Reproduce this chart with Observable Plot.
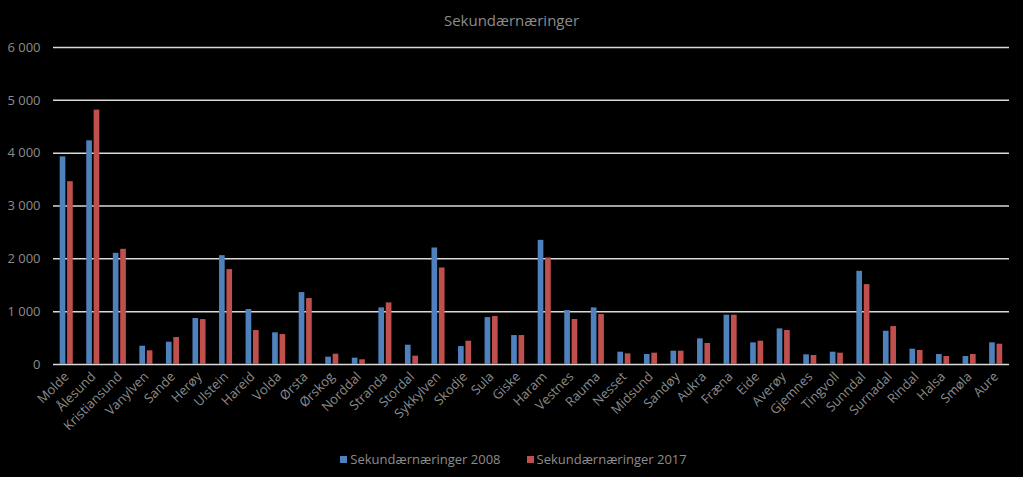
<!DOCTYPE html>
<html>
<head>
<meta charset="utf-8">
<script src="https://cdn.jsdelivr.net/npm/d3@7"></script>
<script src="https://cdn.jsdelivr.net/npm/@observablehq/plot@0.6"></script>
<style>
  html, body { margin: 0; padding: 0; background: #000; }
  body { width: 1023px; height: 477px; overflow: hidden; font-family: "Open Sans", sans-serif; }
  #title { height: 36px; line-height: 40px; text-align: center; color: #8c8c8c; font-size: 15px; }
  #legend { display: flex; justify-content: center; gap: 26px; color: #8c8c8c; font-size: 13px; margin-top: 14px; padding-left: 4px; }
  #legend span.item { display: inline-flex; align-items: center; }
  #legend span.sw { display: inline-block; width: 7px; height: 7px; margin-right: 3px; }
</style>
</head>
<body>
<div id="title">Sekundærnæringer</div>
<div id="chart"></div>
<div id="legend"></div>
<script>
const categories = ["Molde","Ålesund","Kristiansund","Vanylven","Sande","Herøy","Ulstein","Hareid","Volda","Ørsta","Ørskog","Norddal","Stranda","Stordal","Sykkylven","Skodje","Sula","Giske","Haram","Vestnes","Rauma","Nesset","Midsund","Sandøy","Aukra","Fræna","Eide","Averøy","Gjemnes","Tingvoll","Sunndal","Surnadal","Rindal","Halsa","Smøla","Aure"];
const values2008 = [3930,4234,2104,346,422,870,2060,1040,600,1361,139,120,1071,365,2205,340,888,548,2350,1021,1071,233,189,252,485,933,410,674,183,233,1764,630,290,189,151,410];
const values2017 = [3460,4815,2180,259,510,850,1796,643,567,1248,195,89,1166,158,1827,441,907,548,2017,851,945,202,214,252,397,933,441,643,170,214,1512,718,265,151,189,384];
const seriesNames = ["Sekundærnæringer 2008","Sekundærnæringer 2017"];
const seriesColors = ["#4f81bd","#c0504d"];
const yTicks = [0,1000,2000,3000,4000,5000,6000];

const data2008 = categories.map((k, i) => ({kommune: k, serie: seriesNames[0], value: values2008[i]}));
const data2017 = categories.map((k, i) => ({kommune: k, serie: seriesNames[1], value: values2017[i]}));

const chart = Plot.plot({
  width: 1023,
  height: 400,
  marginLeft: 53,
  marginRight: 14,
  marginTop: 11,
  marginBottom: 72,
  style: {background: "#000", color: "#8c8c8c", fontFamily: "Open Sans, sans-serif", fontSize: "13px"},
  x: {domain: categories, padding: 0, round: false, label: null, tickRotate: -45, tickSize: 0, tickPadding: 10},
  y: {domain: [0, 6000], ticks: yTicks, label: null, tickSize: 0, tickPadding: 13,
      tickFormat: d => d3.format(",")(d).replace(/,/g, "\u00a0")},
  color: {domain: seriesNames, range: seriesColors},
  marks: [
    Plot.ruleY(yTicks, {stroke: "#d9d9d9", strokeWidth: 1.5}),
    Plot.barY(data2008, {x: "kommune", y: "value", fill: "serie", insetLeft: 6.7, insetRight: 14.2}),
    Plot.barY(data2017, {x: "kommune", y: "value", fill: "serie", insetLeft: 14.1, insetRight: 6.8})
  ]
});
document.getElementById("chart").appendChild(chart);

const legend = document.getElementById("legend");
seriesNames.forEach((name, i) => {
  const item = document.createElement("span");
  item.className = "item";
  const sw = document.createElement("span");
  sw.className = "sw";
  sw.style.background = seriesColors[i];
  item.appendChild(sw);
  item.appendChild(document.createTextNode(name));
  legend.appendChild(item);
});
</script>
</body>
</html>
